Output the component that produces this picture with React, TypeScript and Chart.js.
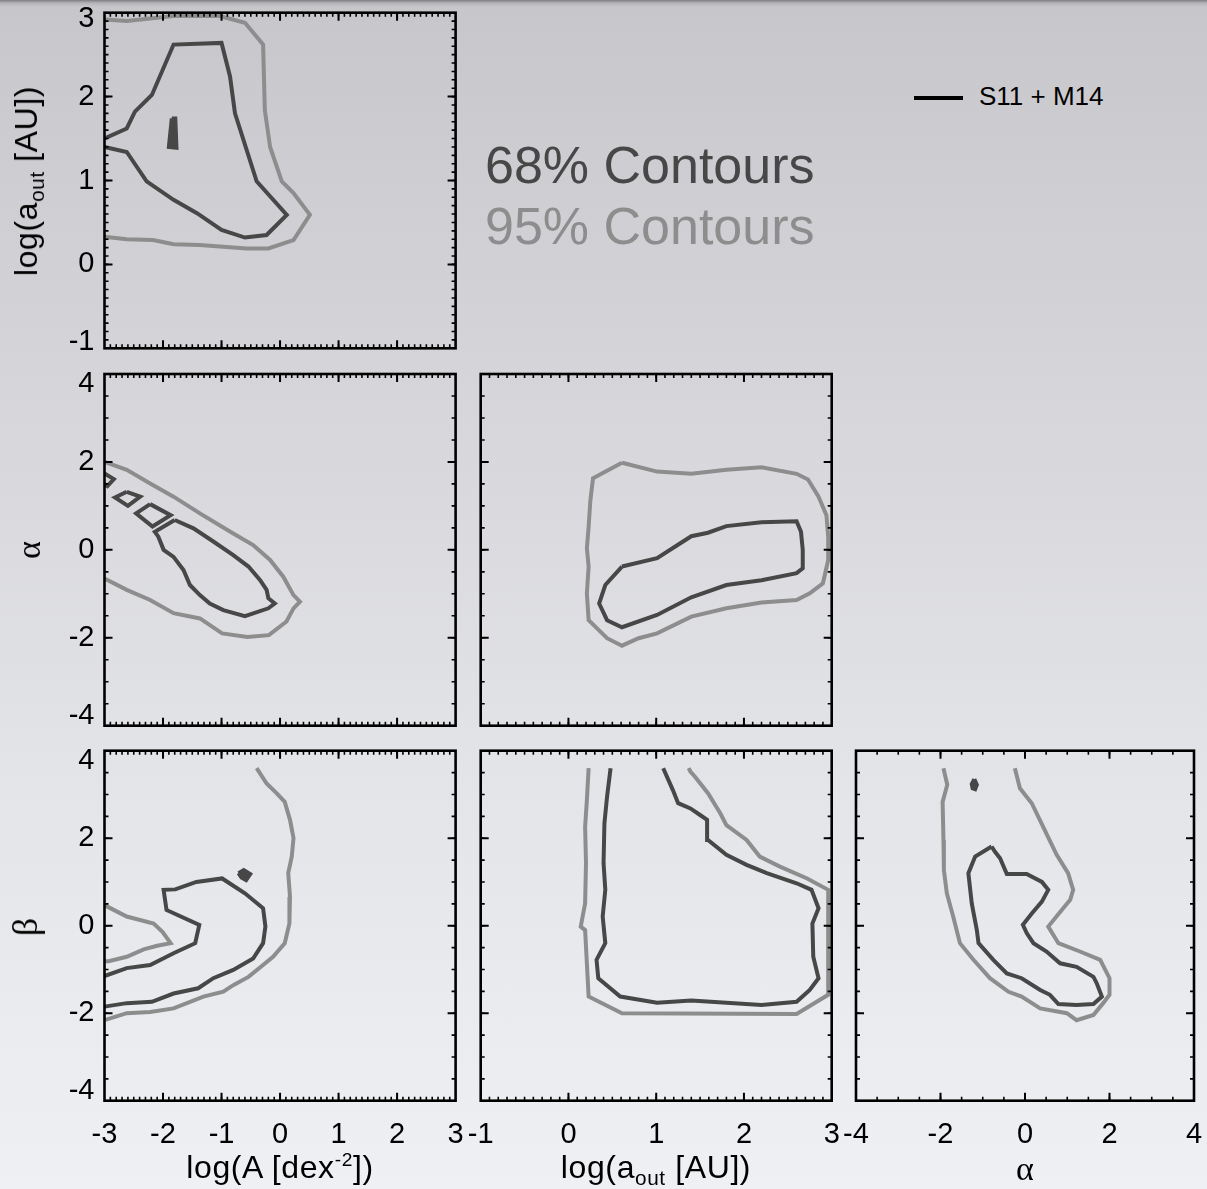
import React, { useEffect, useRef } from "react";
import { Chart, registerables } from "chart.js";

Chart.register(...registerables);

const FONT = '"Liberation Sans", Arial, Helvetica, sans-serif';
const SERIF = '"Liberation Serif", "Times New Roman", serif';
Chart.defaults.font.family = FONT;

const DARK = "#474747";
const LIGHT = "#8d8d8d";

// ---------- tick labels ----------
const TICKS_LOGA = [-3, -2, -1, 0, 1, 2, 3];
const TICKS_AOUT_Y = [-1, 0, 1, 2, 3];
const TICKS_AOUT_X = [-1, 0, 1, 2, 3];
const TICKS_SLOPE = [-4, -2, 0, 2, 4];

// ---------- panel: log(a_out) vs log(A) ----------
const aoutA_95 = [[-3, 2.92], [-2.62, 2.9], [-1.82, 2.96], [-1.03, 2.96], [-0.6, 2.88], [-0.29, 2.62], [-0.26, 1.84], [-0.17, 1.4], [0.03, 0.99], [0.23, 0.85], [0.51, 0.59], [0.23, 0.29], [-0.2, 0.19], [-0.57, 0.19], [-1.37, 0.23], [-1.82, 0.24], [-2.17, 0.29], [-2.62, 0.3], [-3, 0.33]];
const aoutA_68 = [[-3, 1.5], [-2.62, 1.62], [-2.48, 1.82], [-2.19, 2.02], [-1.82, 2.62], [-1.0, 2.64], [-0.855, 2.24], [-0.77, 1.8], [-0.4, 0.99], [0.115, 0.59], [-0.23, 0.35], [-0.6, 0.32], [-1.0, 0.41], [-1.42, 0.61], [-1.82, 0.77], [-2.28, 0.99], [-2.62, 1.34], [-3, 1.4]];
const aoutA_68_island = [[-1.85, 1.74], [-1.79, 1.74], [-1.77, 1.39], [-1.9, 1.4], [-1.85, 1.74]];

// ---------- panel: alpha vs log(A) ----------
const alphaA_95 = [[-3, 2.0], [-2.62, 1.82], [-2.22, 1.51], [-1.82, 1.21], [-1.37, 0.83], [-0.85, 0.41], [-0.46, 0.11], [-0.17, -0.23], [0.055, -0.61], [0.23, -1.03], [0.34, -1.18], [0.23, -1.33], [0.11, -1.63], [-0.19, -1.94], [-0.56, -1.98], [-0.99, -1.9], [-1.37, -1.56], [-1.82, -1.44], [-2.22, -1.14], [-2.62, -0.91], [-3, -0.65]];
const alphaA_68 = [[-1.8, 0.68], [-1.48, 0.49], [-1.14, 0.19], [-0.8, -0.12], [-0.54, -0.38], [-0.34, -0.69], [-0.23, -0.91], [-0.2, -1.1], [-0.09, -1.22], [-0.2, -1.33], [-0.6, -1.51], [-0.97, -1.37], [-1.2, -1.22], [-1.37, -1.03], [-1.54, -0.8], [-1.65, -0.46], [-1.82, -0.16], [-1.99, 0.0], [-2.08, 0.3], [-2.14, 0.41], [-1.8, 0.68]];
const alphaA_68_edge = [[-3, 1.74], [-2.84, 1.61], [-2.95, 1.45], [-3, 1.5]];
const alphaA_68_box1 = [[-2.62, 1.32], [-2.39, 1.21], [-2.6, 1.0], [-2.82, 1.19], [-2.62, 1.32]];
const alphaA_68_box2 = [[-2.22, 1.04], [-1.87, 0.79], [-2.18, 0.53], [-2.46, 0.83], [-2.22, 1.04]];

// ---------- panel: alpha vs log(a_out) ----------
const alphaAout_95 = [[0.61, 1.98], [1.01, 1.78], [1.4, 1.73], [1.8, 1.82], [2.2, 1.88], [2.6, 1.73], [2.73, 1.6], [2.85, 1.21], [2.94, 0.79], [2.96, 0.3], [2.96, -0.23], [2.9, -0.76], [2.75, -0.99], [2.6, -1.14], [2.2, -1.2], [1.8, -1.33], [1.4, -1.52], [1.01, -1.9], [0.8, -2.01], [0.61, -2.18], [0.44, -2.01], [0.23, -1.6], [0.21, -0.99], [0.23, -0.38], [0.21, 0.03], [0.23, 0.53], [0.25, 1.13], [0.28, 1.63], [0.61, 1.98]];
const alphaAout_68 = [[0.61, -0.38], [1.01, -0.19], [1.4, 0.31], [1.59, 0.39], [1.8, 0.54], [2.2, 0.63], [2.6, 0.65], [2.65, 0.41], [2.67, 0.0], [2.67, -0.42], [2.6, -0.53], [2.2, -0.69], [1.8, -0.8], [1.4, -1.08], [1.01, -1.48], [0.61, -1.76], [0.44, -1.6], [0.35, -1.22], [0.42, -0.8], [0.61, -0.38]];

// ---------- panel: beta vs log(A) ----------
const betaA_95a = [[-0.4, 3.6], [-0.23, 3.25], [-0.06, 3.03], [0.08, 2.83], [0.17, 2.42], [0.23, 2.0], [0.2, 1.58], [0.14, 1.2], [0.17, 0.66], [0.16, 0.05], [0.08, -0.4], [-0.12, -0.71], [-0.29, -0.9], [-0.54, -1.17], [-0.8, -1.36], [-0.97, -1.51], [-1.31, -1.62], [-1.82, -1.89], [-2.22, -1.97], [-2.62, -2.0], [-3, -2.16]];
const betaA_95b = [[-3, 0.47], [-2.62, 0.21], [-2.16, 0.05], [-2.01, -0.14], [-1.87, -0.4], [-2.1, -0.46], [-2.33, -0.54], [-2.62, -0.71], [-2.93, -0.81], [-3, -0.81]];
const betaA_68 = [[-3, -1.15], [-2.62, -0.97], [-2.22, -0.9], [-1.82, -0.63], [-1.45, -0.4], [-1.38, 0.02], [-1.94, 0.36], [-1.99, 0.82], [-1.79, 0.83], [-1.43, 1.0], [-0.99, 1.08], [-0.6, 0.74], [-0.29, 0.4], [-0.25, -0.02], [-0.29, -0.4], [-0.46, -0.75], [-0.8, -1.01], [-1.14, -1.2], [-1.4, -1.43], [-1.82, -1.55], [-2.19, -1.74], [-2.62, -1.77], [-3, -1.85]];
const betaA_68_island = [[-0.71, 1.2], [-0.62, 1.27], [-0.51, 1.18], [-0.58, 1.04], [-0.66, 1.1], [-0.71, 1.2]];

// ---------- panel: beta vs log(a_out) ----------
const betaAout_95 = [[0.23, 3.6], [0.21, 2.87], [0.19, 2.26], [0.2, 1.43], [0.19, 0.51], [0.14, -0.02], [0.19, -0.1], [0.21, -0.86], [0.23, -1.62], [0.61, -2.0], [2.6, -2.02], [2.96, -1.58], [2.96, 0.82], [2.72, 1.08], [2.41, 1.35], [2.18, 1.58], [2.03, 1.96], [1.8, 2.3], [1.73, 2.57], [1.59, 3.03], [1.44, 3.41], [1.39, 3.52], [1.37, 3.6]];
const betaAout_68 = [[0.48, 3.6], [0.44, 2.95], [0.41, 2.34], [0.4, 1.43], [0.42, 0.82], [0.39, 0.21], [0.42, -0.4], [0.32, -0.78], [0.34, -1.2], [0.59, -1.62], [1.01, -1.76], [1.4, -1.71], [2.2, -1.81], [2.6, -1.74], [2.75, -1.47], [2.85, -1.2], [2.79, -0.71], [2.78, 0.05], [2.85, 0.4], [2.77, 0.82], [2.6, 0.97], [2.26, 1.2], [2.03, 1.39], [1.8, 1.62], [1.59, 1.96], [1.58, 2.42], [1.5, 2.53], [1.39, 2.68], [1.25, 2.8], [1.19, 3.1], [1.08, 3.6]];

// ---------- panel: beta vs alpha ----------
const betaAlpha_95 = [[-1.93, 3.6], [-1.84, 3.22], [-1.95, 2.83], [-1.93, 1.96], [-1.92, 1.27], [-1.85, 0.74], [-1.7, 0.21], [-1.54, -0.4], [-1.22, -0.78], [-0.83, -1.2], [-0.39, -1.51], [-0.08, -1.62], [0.36, -1.89], [0.99, -2.0], [1.22, -2.16], [1.62, -2.04], [1.85, -1.77], [2.0, -1.58], [2.0, -1.2], [1.78, -0.78], [1.3, -0.59], [0.79, -0.4], [0.55, -0.02], [0.87, 0.36], [1.07, 0.59], [1.14, 0.82], [1.02, 1.2], [0.75, 1.62], [0.43, 2.26], [0.16, 2.8], [-0.12, 3.14], [-0.24, 3.6]];
const betaAlpha_68 = [[-0.79, 1.81], [-1.18, 1.58], [-1.34, 1.2], [-1.26, 0.51], [-1.14, -0.1], [-1.1, -0.4], [-0.75, -0.78], [-0.43, -1.09], [-0.08, -1.2], [0.36, -1.47], [0.59, -1.58], [0.79, -1.79], [1.22, -1.81], [1.62, -1.79], [1.82, -1.62], [1.7, -1.32], [1.62, -1.17], [1.22, -0.94], [0.83, -0.86], [0.51, -0.59], [0.2, -0.4], [0.04, -0.17], [-0.05, 0.02], [0.16, 0.28], [0.4, 0.55], [0.55, 0.82], [0.4, 1.0], [0.04, 1.18], [-0.43, 1.18], [-0.59, 1.54], [-0.71, 1.69], [-0.79, 1.81]];
const betaAlpha_68_island = [[-1.2, 3.35], [-1.14, 3.22], [-1.18, 3.12], [-1.24, 3.14], [-1.26, 3.24], [-1.2, 3.35]];

// ---------- layout of the panels ----------
const PANELS = [
  { key: "p00", rect: [104.5, 12.7, 455.6, 348.3], xTicks: TICKS_LOGA, yTicks: TICKS_AOUT_Y, xMinor: 0.1, yMinor: 0.1, showX: false, showY: true, endShift: 6,
    series: [{ d: aoutA_68, c: DARK }, { d: aoutA_68_island, c: DARK, fill: true }, { d: aoutA_95, c: LIGHT }] },
  { key: "p10", rect: [104.5, 374, 455.6, 725.7], xTicks: TICKS_LOGA, yTicks: TICKS_SLOPE, xMinor: 0.1, yMinor: 0.5, showX: false, showY: true, endShift: 10,
    series: [{ d: alphaA_68, c: DARK }, { d: alphaA_68_edge, c: DARK }, { d: alphaA_68_box1, c: DARK }, { d: alphaA_68_box2, c: DARK }, { d: alphaA_95, c: LIGHT }] },
  { key: "p11", rect: [480.7, 374, 831.7, 725.7], xTicks: TICKS_AOUT_X, yTicks: TICKS_SLOPE, xMinor: 0.1, yMinor: 0.5, showX: false, showY: false, endShift: 10,
    series: [{ d: alphaAout_68, c: DARK }, { d: alphaAout_95, c: LIGHT }] },
  { key: "p20", rect: [104.5, 750.7, 455.6, 1100.7], xTicks: TICKS_LOGA, yTicks: TICKS_SLOPE, xMinor: 0.1, yMinor: 0.5, showX: true, showY: true, endShift: 10,
    series: [{ d: betaA_68, c: DARK }, { d: betaA_68_island, c: DARK, fill: true }, { d: betaA_95a, c: LIGHT }, { d: betaA_95b, c: LIGHT }] },
  { key: "p21", rect: [480.7, 750.7, 831.7, 1100.7], xTicks: TICKS_AOUT_X, yTicks: TICKS_SLOPE, xMinor: 0.1, yMinor: 0.5, showX: true, showY: false, endShift: 10,
    series: [{ d: betaAout_68, c: DARK }, { d: betaAout_95, c: LIGHT }] },
  { key: "p22", rect: [856, 750.7, 1194, 1100.7], xTicks: TICKS_SLOPE, yTicks: TICKS_SLOPE, xMinor: 0.5, yMinor: 0.5, showX: true, showY: false, endShift: 10,
    series: [{ d: betaAlpha_68, c: DARK }, { d: betaAlpha_68_island, c: DARK, fill: true }, { d: betaAlpha_95, c: LIGHT }] },
];

function makeFramePlugin(xMajor: number, xMinor: number, yMajor: number, yMinor: number) {
  return {
    id: "frameTicks",
    afterDraw(chart: any) {
      const { ctx, chartArea: a } = chart;
      const xs = chart.scales.x;
      const ys = chart.scales.y;
      const run = (s: any, step: number, fn: (p: number) => void) => {
        const n = Math.round((s.max - s.min) / step);
        for (let i = 1; i < n; i++) fn(s.getPixelForValue(s.min + i * step));
      };
      const ticks = (xStep: number, yStep: number, len: number, lw: number) => {
        ctx.lineWidth = lw;
        ctx.beginPath();
        run(xs, xStep, (px) => {
          ctx.moveTo(px, a.bottom); ctx.lineTo(px, a.bottom - len);
          ctx.moveTo(px, a.top); ctx.lineTo(px, a.top + len);
        });
        run(ys, yStep, (py) => {
          ctx.moveTo(a.left, py); ctx.lineTo(a.left + len, py);
          ctx.moveTo(a.right, py); ctx.lineTo(a.right - len, py);
        });
        ctx.stroke();
      };
      ctx.save();
      ctx.strokeStyle = "#000";
      ctx.lineCap = "butt";
      ticks(xMinor, yMinor, 4, 1.6);
      ticks(xMajor, yMajor, 8, 2);
      ctx.lineWidth = 2.6;
      ctx.strokeRect(a.left, a.top, a.right - a.left, a.bottom - a.top);
      ctx.restore();
    },
  };
}

const PAD = 75; // canvas margin around each plot area
const YW = 62; // width reserved for y tick labels
const XH = 60; // height reserved for x tick labels
const TICK_SIZE = 29;

function Panel({ p }: { p: any }) {
  const ref = useRef<HTMLCanvasElement>(null);
  const [L, T, R, B] = p.rect;
  const cl = Math.floor(L) - PAD;
  const ct = Math.floor(T) - PAD;
  const cw = Math.ceil(R) + PAD - cl;
  const ch = Math.ceil(B) + PAD - ct;

  useEffect(() => {
    const xT = p.xTicks, yT = p.yTicks;
    const chart = new Chart(ref.current as HTMLCanvasElement, {
      type: "scatter",
      data: {
        datasets: p.series.map((s: any) => ({
          data: s.d.map(([x, y]: number[]) => ({ x, y })),
          showLine: true,
          borderColor: s.c,
          backgroundColor: s.c,
          borderWidth: 4,
          pointRadius: 0,
          pointHoverRadius: 0,
          tension: 0,
          borderJoinStyle: "miter",
          fill: s.fill ? "shape" : false,
        })),
      },
      options: {
        responsive: false,
        animation: false,
        devicePixelRatio: 1,
        events: [],
        layout: { padding: { left: L - cl - YW, top: T - ct, right: cl + cw - R, bottom: ct + ch - B - XH } },
        plugins: { legend: { display: false }, tooltip: { enabled: false } },
        scales: {
          x: {
            type: "linear",
            position: "bottom",
            min: xT[0],
            max: xT[xT.length - 1],
            afterFit: (s: any) => { s.height = XH; },
            grid: { display: false, drawTicks: false },
            border: { display: false },
            ticks: {
              display: p.showX,
              stepSize: xT[1] - xT[0],
              autoSkip: false,
              maxRotation: 0,
              padding: 17,
              color: "#000",
              font: { family: FONT, size: TICK_SIZE },
              callback: (v: any) => String(v),
            },
          },
          y: {
            type: "linear",
            position: "left",
            min: yT[0],
            max: yT[yT.length - 1],
            afterFit: (s: any) => { s.width = YW; },
            grid: { display: false, drawTicks: false },
            border: { display: false },
            ticks: {
              display: p.showY,
              stepSize: yT[1] - yT[0],
              autoSkip: false,
              padding: 10,
              color: "#000",
              font: { family: FONT, size: TICK_SIZE, lineHeight: p.endShift * 2 + "px" },
              callback: (v: any, i: number, arr: any[]) =>
                i === 0 ? [String(v), ""] : i === arr.length - 1 ? ["", String(v)] : String(v),
            },
          },
        },
      } as any,
      plugins: [makeFramePlugin(xT[1] - xT[0], p.xMinor, yT[1] - yT[0], p.yMinor)],
    });
    return () => chart.destroy();
  }, []);

  return (
    <canvas
      ref={ref}
      width={cw}
      height={ch}
      style={{ position: "absolute", left: cl, top: ct, width: cw, height: ch }}
    />
  );
}

const sub = { fontSize: "0.65em", position: "relative" as const, top: "0.35em", lineHeight: 0 };
const sup = { fontSize: "0.6em", position: "relative" as const, top: "-0.6em", lineHeight: 0 };

function LeftTitle({ cx, cy, size, family, spacing, children }: any) {
  return (
    <div style={{ position: "absolute", left: cx, top: cy, transform: "translate(-50%,-50%) rotate(-90deg)", whiteSpace: "nowrap", lineHeight: 1, fontSize: size, fontFamily: family, letterSpacing: spacing || 0, color: "#000" }}>
      {children}
    </div>
  );
}

function BottomTitle({ cx, base, size, family, spacing, children }: any) {
  const k = family === SERIF ? 0.8375 : 0.8465;
  return (
    <div style={{ position: "absolute", left: cx, top: base - k * size, transform: "translateX(-50%)", whiteSpace: "nowrap", lineHeight: 1, fontSize: size, fontFamily: family, letterSpacing: spacing || 0, color: "#000" }}>
      {children}
    </div>
  );
}

export default function App() {
  return (
    <div
      style={{
        position: "fixed",
        left: 0,
        top: 0,
        width: 1207,
        height: 1189,
        overflow: "hidden",
        fontFamily: FONT,
        background:
          "linear-gradient(to bottom, #7e7e80 0px, #b4b3b7 3px, #c7c6cb 7px, #cccbd0 120px, #d8d8dc 450px, #e4e5e9 800px, #eff0f4 1189px)",
      }}
    >
      {PANELS.map((p) => (
        <Panel key={p.key} p={p} />
      ))}

      {/* contour level labels */}
      <div style={{ position: "absolute", left: 485, top: 139.3, fontSize: 52, lineHeight: 1, color: DARK, whiteSpace: "nowrap" }}>68% Contours</div>
      <div style={{ position: "absolute", left: 485, top: 200, fontSize: 52, lineHeight: 1, color: LIGHT, whiteSpace: "nowrap" }}>95% Contours</div>

      {/* legend */}
      <div style={{ position: "absolute", left: 914, top: 96.3, width: 49, height: 4, background: "#000" }} />
      <div style={{ position: "absolute", left: 979, top: 82.6, fontSize: 26, lineHeight: 1, color: "#000", whiteSpace: "nowrap" }}>S11 + M14</div>

      {/* left axis titles */}
      <LeftTitle cx={26} cy={180.5} size={32} family={FONT} spacing="0.6px">
        log(a<span style={sub}>out</span> [AU])
      </LeftTitle>
      <LeftTitle cx={29} cy={550} size={34} family={SERIF}>α</LeftTitle>
      <LeftTitle cx={25} cy={927} size={36} family={SERIF}>β</LeftTitle>

      {/* bottom axis titles */}
      <BottomTitle cx={280} base={1178} size={32} family={FONT} spacing="0.6px">
        log(A [dex<span style={sup}>-2</span>])
      </BottomTitle>
      <BottomTitle cx={656} base={1178} size={32} family={FONT} spacing="0.6px">
        log(a<span style={sub}>out</span> [AU])
      </BottomTitle>
      <BottomTitle cx={1025} base={1180} size={34} family={SERIF}>α</BottomTitle>
    </div>
  );
}
